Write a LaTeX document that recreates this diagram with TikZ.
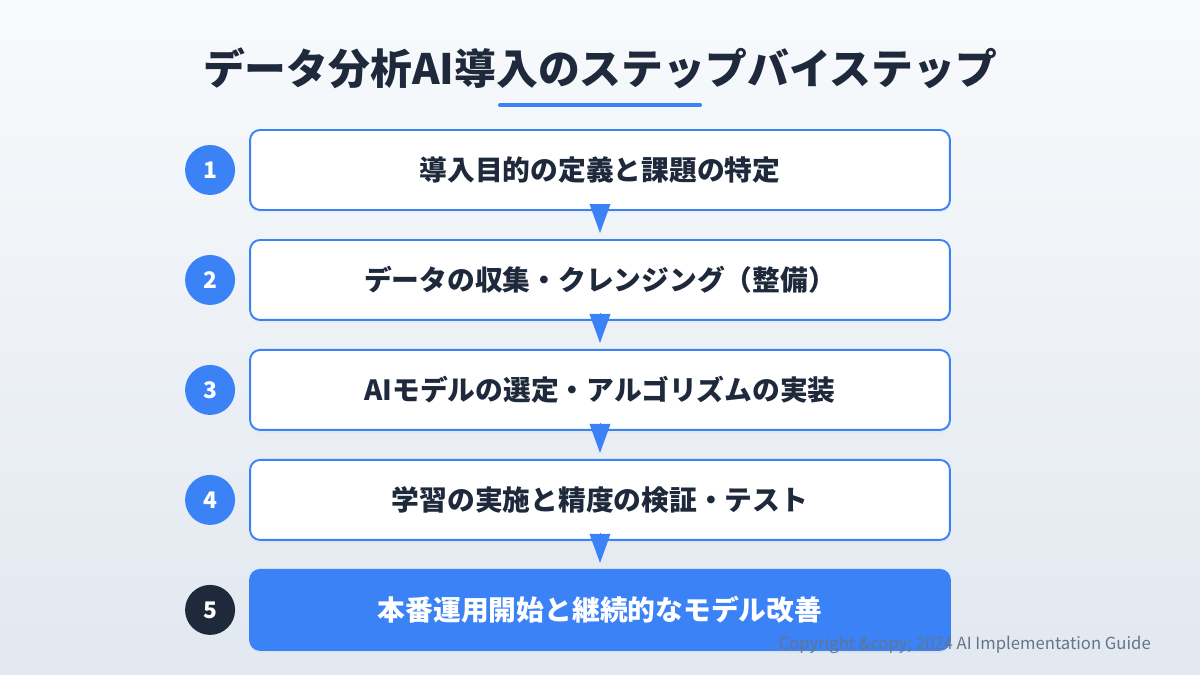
\documentclass[tikz,border=0pt]{standalone}
\usepackage{fontspec}
\setmainfont{Noto Sans CJK JP}
\usetikzlibrary{arrows.meta, shadows}
\definecolor{accent}{HTML}{3B82F6}
\definecolor{ink}{HTML}{1E293B}
\definecolor{note}{HTML}{64748B}
\definecolor{bgtop}{HTML}{F8FAFC}
\definecolor{bgbottom}{HTML}{E2E8F0}
\tikzstyle{stepbox} = [rectangle, rounded corners=5.7pt, minimum width=14cm, minimum height=1.6cm, text centered, draw=accent, line width=1.1pt, fill=white, text=ink, font=\fontsize{15.8}{18}\selectfont\bfseries, drop shadow={opacity=0.06, shadow xshift=0pt, shadow yshift=-1.5pt}]
\tikzstyle{lastbox} = [stepbox, fill=accent, text=white]
\tikzstyle{badge} = [circle, minimum size=1cm, inner sep=0pt, fill=accent, text=white, font=\fontsize{13}{15}\selectfont\bfseries]
\tikzstyle{arrow} = [-{Triangle[width=0.42cm, length=0.58cm]}, accent, line width=0pt]

\begin{document}
\begin{tikzpicture}[x=0.02cm, y=0.02cm, node distance=2.2cm]
            \shade[top color=bgtop, bottom color=bgbottom] (0,0) rectangle (1200,675);
            \useasboundingbox (0,0) rectangle (1200,675);
            % title
            \node (title) [text=ink, font=\fontsize{23.8}{28}\selectfont\bfseries] at (600,607) {データ分析AI導入のステップバイステップ};
            \draw [accent, line width=2.3pt, line cap=round] (500,570) -- (700,570);
            % steps
            \node (define) [stepbox] at (600,505) {導入目的の定義と課題の特定};
            \node (collect) [stepbox, below of=define] {データの収集・クレンジング（整備）};
            \node (model) [stepbox, below of=collect] {AIモデルの選定・アルゴリズムの実装};
            \node (train) [stepbox, below of=model] {学習の実施と精度の検証・テスト};
            \node (deploy) [lastbox, below of=train] {本番運用開始と継続的なモデル改善};
            % numbers
            \node (n1) [badge, left of=define, xshift=-5.6cm] {1};
            \node (n2) [badge, left of=collect, xshift=-5.6cm] {2};
            \node (n3) [badge, left of=model, xshift=-5.6cm] {3};
            \node (n4) [badge, left of=train, xshift=-5.6cm] {4};
            \node (n5) [badge, fill=ink, left of=deploy, xshift=-5.6cm] {5};
            % arrows
            \draw [arrow] ([yshift=0.1cm]define.south) -- ([yshift=0.12cm]collect.north);
            \draw [arrow] ([yshift=0.1cm]collect.south) -- ([yshift=0.12cm]model.north);
            \draw [arrow] ([yshift=0.1cm]model.south) -- ([yshift=0.12cm]train.north);
            \draw [arrow] ([yshift=0.1cm]train.south) -- ([yshift=0.12cm]deploy.north);
            % footer
            \node (copy) [anchor=base east, text=note, font=\fontsize{9.5}{11}\selectfont] at (1157,25) {Copyright \&copy; 2024 AI Implementation Guide};
        \end{tikzpicture}
\end{document}
